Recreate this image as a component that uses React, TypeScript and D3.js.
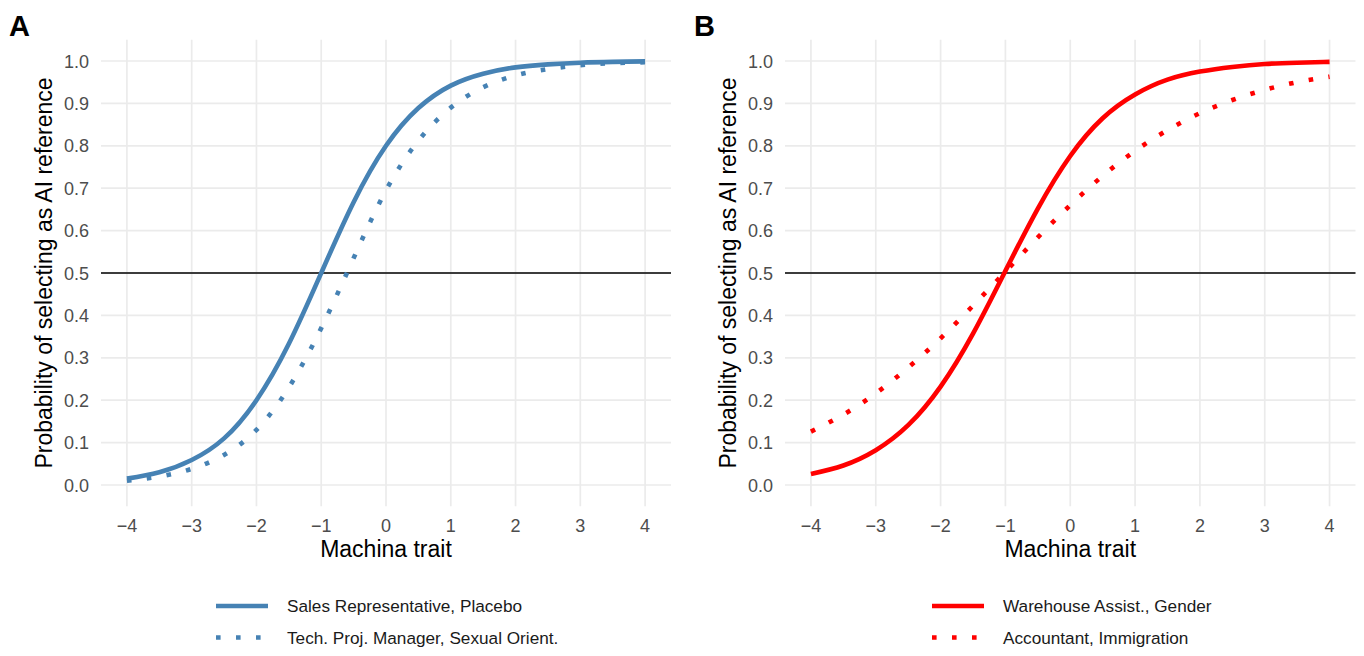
import React from "react";
import * as d3 from "d3";

// ---- data ----
const traitValues = [-4, -3.5, -3, -2.5, -2, -1.5, -1, -0.5, 0, 0.5, 1, 1.5, 2, 2.5, 3, 3.5, 4];

const salesPlacebo = [0.015, 0.03, 0.059, 0.11, 0.2, 0.333, 0.5, 0.667, 0.8, 0.889, 0.942, 0.97, 0.985, 0.992, 0.996, 0.998, 0.999];
const techSexual = [0.01, 0.02, 0.038, 0.071, 0.13, 0.23, 0.37, 0.535, 0.695, 0.812, 0.89, 0.938, 0.966, 0.981, 0.99, 0.995, 0.997];
const warehouseGender = [0.026, 0.046, 0.082, 0.141, 0.232, 0.357, 0.505, 0.652, 0.776, 0.865, 0.921, 0.956, 0.975, 0.986, 0.993, 0.996, 0.998];
const accountantImmig = [0.126, 0.166, 0.216, 0.277, 0.346, 0.423, 0.503, 0.584, 0.66, 0.729, 0.788, 0.837, 0.877, 0.908, 0.932, 0.95, 0.963];

const xTicks = [-4, -3, -2, -1, 0, 1, 2, 3, 4];
const yTicks = [0, 0.1, 0.2, 0.3, 0.4, 0.5, 0.6, 0.7, 0.8, 0.9, 1.0];

const panelLabels = ["A", "B"];
const legendA = ["Sales Representative, Placebo", "Tech. Proj. Manager, Sexual Orient."];
const legendB = ["Warehouse Assist., Gender", "Accountant, Immigration"];

const FONT = "'Liberation Sans', Arial, Helvetica, sans-serif";

type PanelProps = {
  left: number;
  right: number;
  label: string;
  labelX: number;
  color: string;
  solid: number[];
  dotted: number[];
  legend: string[];
  legendX: number;
};

const top = 39.8;
const bottom = 506.2;

function Panel({ left, right, label, labelX, color, solid, dotted, legend, legendX }: PanelProps) {
  const x = d3.scaleLinear().domain([-4.4, 4.4]).range([left, right]);
  const y = d3.scaleLinear().domain([-0.05, 1.05]).range([bottom, top]);
  const line = d3
    .line<number>()
    .x((_, i) => x(traitValues[i]))
    .y((d) => y(d))
    .curve(d3.curveNatural);
  const fmt = d3.format(".1f");
  const minus = (v: number) => (v < 0 ? "\u2212" + Math.abs(v) : String(v));
  const cx = (left + right) / 2;
  const cy = (top + bottom) / 2;
  const lw = 4.6;
  const dash = "4.6 15.4";
  return (
    <g>
      <text x={labelX} y={36} fontFamily={FONT} fontWeight="bold" fontSize={29} fill="#000">
        {label}
      </text>
      {/* grid */}
      {xTicks.map((t) => (
        <line key={"gx" + t} x1={x(t)} x2={x(t)} y1={top} y2={bottom} stroke="#EBEBEB" strokeWidth={1.7} />
      ))}
      {yTicks.map((t) => (
        <line key={"gy" + t} x1={left} x2={right} y1={y(t)} y2={y(t)} stroke="#EBEBEB" strokeWidth={1.7} />
      ))}
      {/* reference line */}
      <line x1={left} x2={right} y1={y(0.5)} y2={y(0.5)} stroke="#000" strokeWidth={1.4} />
      {/* curves */}
      <path d={line(solid) || ""} fill="none" stroke={color} strokeWidth={lw} />
      <path d={line(dotted) || ""} fill="none" stroke={color} strokeWidth={lw} strokeDasharray={dash} />
      {/* tick labels */}
      {yTicks.map((t) => (
        <text
          key={"ty" + t}
          x={left - 12}
          y={y(t) + 6.5}
          textAnchor="end"
          fontFamily={FONT}
          fontSize={18}
          fill="#4D4D4D"
        >
          {fmt(t)}
        </text>
      ))}
      {xTicks.map((t) => (
        <text key={"tx" + t} x={x(t)} y={532} textAnchor="middle" fontFamily={FONT} fontSize={18} fill="#4D4D4D">
          {minus(t)}
        </text>
      ))}
      {/* axis titles */}
      <text x={cx} y={557} textAnchor="middle" fontFamily={FONT} fontSize={23} fill="#000">
        Machina trait
      </text>
      <text
        transform={`translate(${left - 49},${cy}) rotate(-90)`}
        textAnchor="middle"
        fontFamily={FONT}
        fontSize={23}
        fill="#000"
      >
        Probability of selecting as AI reference
      </text>
      {/* legend */}
      {legend.map((name, i) => {
        const ly = 606 + i * 31.5;
        return (
          <g key={name}>
            <line
              x1={legendX}
              x2={legendX + 52}
              y1={ly}
              y2={ly}
              stroke={color}
              strokeWidth={lw}
              strokeDasharray={i === 1 ? dash : undefined}
            />
            <text x={legendX + 71} y={ly + 6} fontFamily={FONT} fontSize={17.2} fill="#1A1A1A">
              {name}
            </text>
          </g>
        );
      })}
    </g>
  );
}

export default function App() {
  return (
    <svg width={1364} height={656} style={{ position: "absolute", left: 0, top: 0, background: "#fff" }}>
      <rect width={1364} height={656} fill="#fff" />
      <Panel
        left={101}
        right={671}
        label={panelLabels[0]}
        labelX={9}
        color="#4682B4"
        solid={salesPlacebo}
        dotted={techSexual}
        legend={legendA}
        legendX={216}
      />
      <Panel
        left={785}
        right={1355.5}
        label={panelLabels[1]}
        labelX={694}
        color="#FF0000"
        solid={warehouseGender}
        dotted={accountantImmig}
        legend={legendB}
        legendX={932}
      />
    </svg>
  );
}
